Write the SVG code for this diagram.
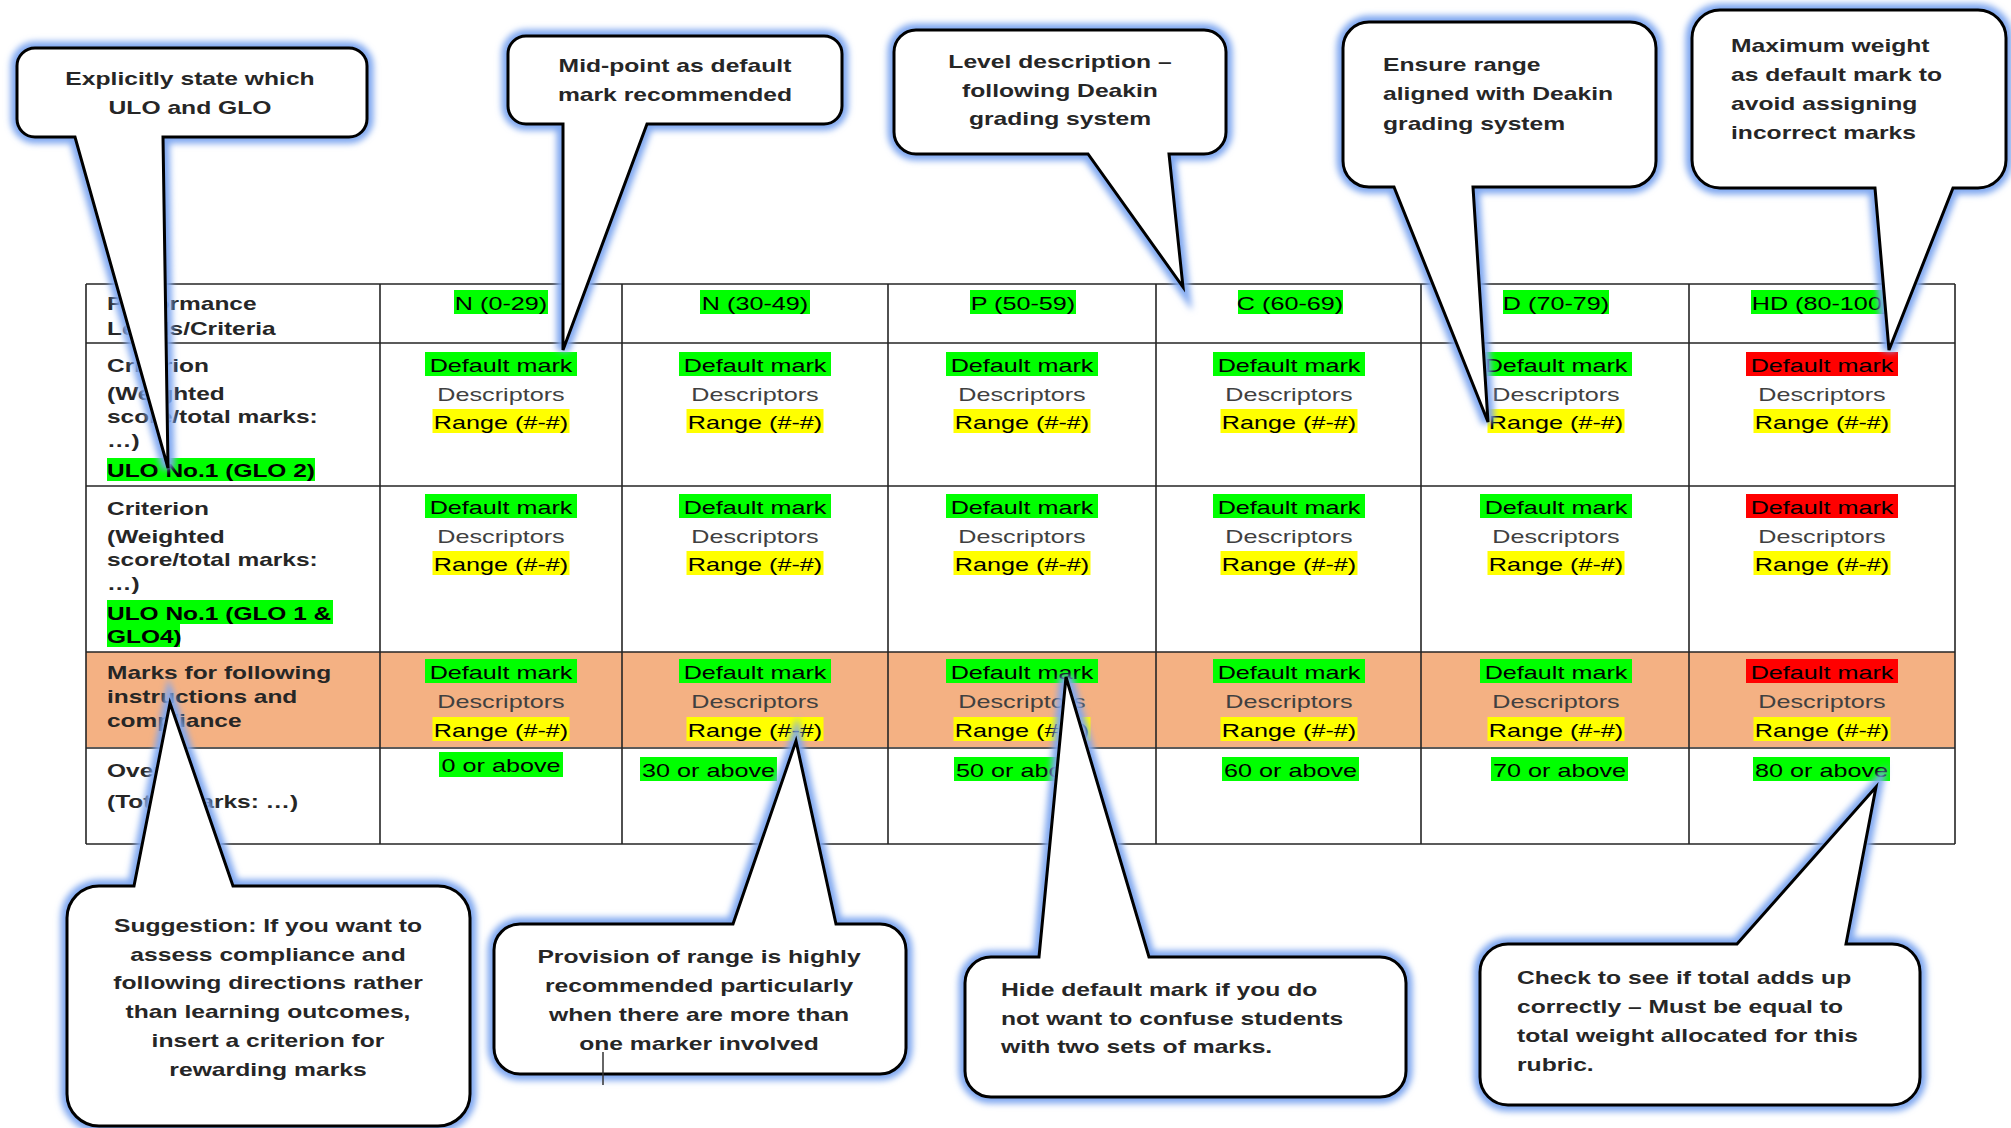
<svg xmlns="http://www.w3.org/2000/svg" width="2011" height="1128" viewBox="0 0 2011 1128">
<defs>
<style>
text{font-family:"Liberation Sans",Arial,sans-serif;font-size:18px}
.b{font-weight:bold;fill:#262626}
.n{fill:#000}
.d{fill:#404040}
.c{text-anchor:middle}
.g{fill:#00FF00}
.y{fill:#FFFF00}
.red{fill:#FF0000}
.grid{stroke:#262626;stroke-width:1.6;fill:none}
.glow{fill:none;stroke:#7FA7F0;stroke-width:13}
.shape{fill:#fff;stroke:#000;stroke-width:3}
</style>
<filter id="blur" x="-20%" y="-20%" width="140%" height="140%"><feGaussianBlur stdDeviation="3.2"/></filter>
<path id="p1" d="M35,48 H349 A18,18 0 0 1 367,66 V119 A18,18 0 0 1 349,137 H163 L168,468 L75,137 H35 A18,18 0 0 1 17,119 V66 A18,18 0 0 1 35,48 Z"/>
<path id="p2" d="M526,36 H824 A18,18 0 0 1 842,54 V106 A18,18 0 0 1 824,124 H647 L563,350 L563,124 H526 A18,18 0 0 1 508,106 V54 A18,18 0 0 1 526,36 Z"/>
<path id="p3" d="M916,30 H1204 A22,22 0 0 1 1226,52 V132 A22,22 0 0 1 1204,154 H1169 L1183,287 L1088,154 H916 A22,22 0 0 1 894,132 V52 A22,22 0 0 1 916,30 Z"/>
<path id="p4" d="M1369,22 H1630 A26,26 0 0 1 1656,48 V161 A26,26 0 0 1 1630,187 H1473 L1488,422 L1394,187 H1369 A26,26 0 0 1 1343,161 V48 A26,26 0 0 1 1369,22 Z"/>
<path id="p5" d="M1720,10 H1978 A28,28 0 0 1 2006,38 V160 A28,28 0 0 1 1978,188 H1953 L1889,350 L1875,188 H1720 A28,28 0 0 1 1692,160 V38 A28,28 0 0 1 1720,10 Z"/>
<path id="p6" d="M99,886 H134 L170,703 L233,886 H438 A32,32 0 0 1 470,918 V1094 A32,32 0 0 1 438,1126 H99 A32,32 0 0 1 67,1094 V918 A32,32 0 0 1 99,886 Z"/>
<path id="p7" d="M520,924 H733 L796,741 L836,924 H880 A26,26 0 0 1 906,950 V1048 A26,26 0 0 1 880,1074 H520 A26,26 0 0 1 494,1048 V950 A26,26 0 0 1 520,924 Z"/>
<path id="p8" d="M991,957 H1039 L1066,677 L1149,957 H1380 A26,26 0 0 1 1406,983 V1071 A26,26 0 0 1 1380,1097 H991 A26,26 0 0 1 965,1071 V983 A26,26 0 0 1 991,957 Z"/>
<path id="p9" d="M1508,944 H1737 L1876,787 L1846,944 H1892 A28,28 0 0 1 1920,972 V1077 A28,28 0 0 1 1892,1105 H1508 A28,28 0 0 1 1480,1077 V972 A28,28 0 0 1 1508,944 Z"/>
</defs>
<rect width="2011" height="1128" fill="#fff"/>

<g id="table">
<rect x="86" y="652" width="1869" height="95" fill="#F4B183"/>
<g class="grid">
<path d="M86,284 H1955 M86,343 H1955 M86,486 H1955 M86,652 H1955 M86,748 H1955 M86,844 H1955"/>
<path d="M86,284 V844 M380,284 V844 M622,284 V844 M888,284 V844 M1156,284 V844 M1421,284 V844 M1689,284 V844 M1955,284 V844"/>
</g>
<!-- header -->
<text class="b" transform="translate(107 310) scale(1.36 1)">Performance</text>
<text class="b" transform="translate(107 335) scale(1.36 1)">Levels/Criteria</text>
<rect class="g" x="454" y="290" width="94" height="24"/><text class="n c" transform="translate(501 310) scale(1.4 1)">N (0-29)</text>
<rect class="g" x="700" y="290" width="110" height="24"/><text class="n c" transform="translate(755 310) scale(1.4 1)">N (30-49)</text>
<rect class="g" x="970" y="290" width="106" height="24"/><text class="n c" transform="translate(1023 310) scale(1.4 1)">P (50-59)</text>
<rect class="g" x="1238" y="290" width="105" height="24"/><text class="n c" transform="translate(1290 310) scale(1.4 1)">C (60-69)</text>
<rect class="g" x="1503" y="290" width="106" height="24"/><text class="n c" transform="translate(1556 310) scale(1.4 1)">D (70-79)</text>
<rect class="g" x="1751" y="290" width="141" height="24"/><text class="n c" transform="translate(1821 310) scale(1.4 1)">HD (80-100)</text>
<!-- row 1 -->
<text class="b" transform="translate(107 372) scale(1.36 1)">Criterion</text>
<text class="b" transform="translate(107 400) scale(1.36 1)">(Weighted</text>
<text class="b" transform="translate(107 423) scale(1.36 1)">score/total marks:</text>
<text class="b" transform="translate(107 447) scale(1.36 1)">…)</text>
<rect class="g" x="107" y="458" width="208" height="23"/>
<text class="b" style="fill:#000" transform="translate(107 477) scale(1.36 1)">ULO No.1 (GLO 2)</text>
<rect class="g" x="425" y="352" width="152" height="24"/><text class="n c" transform="translate(501 372) scale(1.4 1)">Default mark</text>
<rect class="g" x="679" y="352" width="152" height="24"/><text class="n c" transform="translate(755 372) scale(1.4 1)">Default mark</text>
<rect class="g" x="946" y="352" width="152" height="24"/><text class="n c" transform="translate(1022 372) scale(1.4 1)">Default mark</text>
<rect class="g" x="1213" y="352" width="152" height="24"/><text class="n c" transform="translate(1289 372) scale(1.4 1)">Default mark</text>
<rect class="g" x="1480" y="352" width="152" height="24"/><text class="n c" transform="translate(1556 372) scale(1.4 1)">Default mark</text>
<rect class="red" x="1746" y="352" width="152" height="24"/><text class="n c" transform="translate(1822 372) scale(1.4 1)">Default mark</text>
<text class="d c" transform="translate(501 401) scale(1.4 1)">Descriptors</text>
<text class="d c" transform="translate(755 401) scale(1.4 1)">Descriptors</text>
<text class="d c" transform="translate(1022 401) scale(1.4 1)">Descriptors</text>
<text class="d c" transform="translate(1289 401) scale(1.4 1)">Descriptors</text>
<text class="d c" transform="translate(1556 401) scale(1.4 1)">Descriptors</text>
<text class="d c" transform="translate(1822 401) scale(1.4 1)">Descriptors</text>
<rect class="y" x="432.5" y="409" width="137" height="24"/><text class="n c" transform="translate(501 429) scale(1.4 1)">Range (#-#)</text>
<rect class="y" x="686.5" y="409" width="137" height="24"/><text class="n c" transform="translate(755 429) scale(1.4 1)">Range (#-#)</text>
<rect class="y" x="953.5" y="409" width="137" height="24"/><text class="n c" transform="translate(1022 429) scale(1.4 1)">Range (#-#)</text>
<rect class="y" x="1220.5" y="409" width="137" height="24"/><text class="n c" transform="translate(1289 429) scale(1.4 1)">Range (#-#)</text>
<rect class="y" x="1487.5" y="409" width="137" height="24"/><text class="n c" transform="translate(1556 429) scale(1.4 1)">Range (#-#)</text>
<rect class="y" x="1753.5" y="409" width="137" height="24"/><text class="n c" transform="translate(1822 429) scale(1.4 1)">Range (#-#)</text>
<!-- row 2 -->
<text class="b" transform="translate(107 515) scale(1.36 1)">Criterion</text>
<text class="b" transform="translate(107 543) scale(1.36 1)">(Weighted</text>
<text class="b" transform="translate(107 566) scale(1.36 1)">score/total marks:</text>
<text class="b" transform="translate(107 590) scale(1.36 1)">…)</text>
<rect class="g" x="107" y="600" width="226" height="24"/>
<rect class="g" x="107" y="624" width="73" height="23"/>
<text class="b" style="fill:#000" transform="translate(107 620) scale(1.36 1)">ULO No.1 (GLO 1 &amp;</text>
<text class="b" style="fill:#000" transform="translate(107 643) scale(1.36 1)">GLO4)</text>
<rect class="g" x="425" y="494" width="152" height="24"/><text class="n c" transform="translate(501 514) scale(1.4 1)">Default mark</text>
<rect class="g" x="679" y="494" width="152" height="24"/><text class="n c" transform="translate(755 514) scale(1.4 1)">Default mark</text>
<rect class="g" x="946" y="494" width="152" height="24"/><text class="n c" transform="translate(1022 514) scale(1.4 1)">Default mark</text>
<rect class="g" x="1213" y="494" width="152" height="24"/><text class="n c" transform="translate(1289 514) scale(1.4 1)">Default mark</text>
<rect class="g" x="1480" y="494" width="152" height="24"/><text class="n c" transform="translate(1556 514) scale(1.4 1)">Default mark</text>
<rect class="red" x="1746" y="494" width="152" height="24"/><text class="n c" transform="translate(1822 514) scale(1.4 1)">Default mark</text>
<text class="d c" transform="translate(501 543) scale(1.4 1)">Descriptors</text>
<text class="d c" transform="translate(755 543) scale(1.4 1)">Descriptors</text>
<text class="d c" transform="translate(1022 543) scale(1.4 1)">Descriptors</text>
<text class="d c" transform="translate(1289 543) scale(1.4 1)">Descriptors</text>
<text class="d c" transform="translate(1556 543) scale(1.4 1)">Descriptors</text>
<text class="d c" transform="translate(1822 543) scale(1.4 1)">Descriptors</text>
<rect class="y" x="432.5" y="551" width="137" height="24"/><text class="n c" transform="translate(501 571) scale(1.4 1)">Range (#-#)</text>
<rect class="y" x="686.5" y="551" width="137" height="24"/><text class="n c" transform="translate(755 571) scale(1.4 1)">Range (#-#)</text>
<rect class="y" x="953.5" y="551" width="137" height="24"/><text class="n c" transform="translate(1022 571) scale(1.4 1)">Range (#-#)</text>
<rect class="y" x="1220.5" y="551" width="137" height="24"/><text class="n c" transform="translate(1289 571) scale(1.4 1)">Range (#-#)</text>
<rect class="y" x="1487.5" y="551" width="137" height="24"/><text class="n c" transform="translate(1556 571) scale(1.4 1)">Range (#-#)</text>
<rect class="y" x="1753.5" y="551" width="137" height="24"/><text class="n c" transform="translate(1822 571) scale(1.4 1)">Range (#-#)</text>
<!-- row 3 -->
<text class="b" transform="translate(107 679) scale(1.36 1)">Marks for following</text>
<text class="b" transform="translate(107 703) scale(1.36 1)">instructions and</text>
<text class="b" transform="translate(107 727) scale(1.36 1)">compliance</text>
<rect class="g" x="425" y="659" width="152" height="24"/><text class="n c" transform="translate(501 679) scale(1.4 1)">Default mark</text>
<rect class="g" x="679" y="659" width="152" height="24"/><text class="n c" transform="translate(755 679) scale(1.4 1)">Default mark</text>
<rect class="g" x="946" y="659" width="152" height="24"/><text class="n c" transform="translate(1022 679) scale(1.4 1)">Default mark</text>
<rect class="g" x="1213" y="659" width="152" height="24"/><text class="n c" transform="translate(1289 679) scale(1.4 1)">Default mark</text>
<rect class="g" x="1480" y="659" width="152" height="24"/><text class="n c" transform="translate(1556 679) scale(1.4 1)">Default mark</text>
<rect class="red" x="1746" y="659" width="152" height="24"/><text class="n c" transform="translate(1822 679) scale(1.4 1)">Default mark</text>
<text class="d c" transform="translate(501 708) scale(1.4 1)">Descriptors</text>
<text class="d c" transform="translate(755 708) scale(1.4 1)">Descriptors</text>
<text class="d c" transform="translate(1022 708) scale(1.4 1)">Descriptors</text>
<text class="d c" transform="translate(1289 708) scale(1.4 1)">Descriptors</text>
<text class="d c" transform="translate(1556 708) scale(1.4 1)">Descriptors</text>
<text class="d c" transform="translate(1822 708) scale(1.4 1)">Descriptors</text>
<rect class="y" x="432.5" y="717" width="137" height="24"/><text class="n c" transform="translate(501 737) scale(1.4 1)">Range (#-#)</text>
<rect class="y" x="686.5" y="717" width="137" height="24"/><text class="n c" transform="translate(755 737) scale(1.4 1)">Range (#-#)</text>
<rect class="y" x="953.5" y="717" width="137" height="24"/><text class="n c" transform="translate(1022 737) scale(1.4 1)">Range (#-#)</text>
<rect class="y" x="1220.5" y="717" width="137" height="24"/><text class="n c" transform="translate(1289 737) scale(1.4 1)">Range (#-#)</text>
<rect class="y" x="1487.5" y="717" width="137" height="24"/><text class="n c" transform="translate(1556 737) scale(1.4 1)">Range (#-#)</text>
<rect class="y" x="1753.5" y="717" width="137" height="24"/><text class="n c" transform="translate(1822 737) scale(1.4 1)">Range (#-#)</text>
<!-- row 4 -->
<text class="b" transform="translate(107 777) scale(1.36 1)">Overall</text>
<text class="b" transform="translate(107 808) scale(1.36 1)">(Total marks: …)</text>
<rect class="g" x="439" y="752" width="124" height="25"/><text class="n c" transform="translate(501 772) scale(1.4 1)">0 or above</text>
<rect class="g" x="640" y="757" width="137" height="24"/><text class="n c" transform="translate(708.5 777) scale(1.4 1)">30 or above</text>
<rect class="g" x="954" y="757" width="137" height="24"/><text class="n c" transform="translate(1022.5 777) scale(1.4 1)">50 or above</text>
<rect class="g" x="1222" y="757" width="137" height="24"/><text class="n c" transform="translate(1290.5 777) scale(1.4 1)">60 or above</text>
<rect class="g" x="1491" y="757" width="137" height="24"/><text class="n c" transform="translate(1559.5 777) scale(1.4 1)">70 or above</text>
<rect class="g" x="1753" y="757" width="137" height="24"/><text class="n c" transform="translate(1821.5 777) scale(1.4 1)">80 or above</text>
</g>

<g id="callout-ulo-glo">
<use href="#p1" class="glow" filter="url(#blur)"/><use href="#p1" class="shape"/>
<text class="b c" transform="translate(190 85) scale(1.37 1)"><tspan x="0" y="0">Explicitly state which</tspan><tspan x="0" y="29">ULO and GLO</tspan></text>
</g>
<g id="callout-midpoint">
<use href="#p2" class="glow" filter="url(#blur)"/><use href="#p2" class="shape"/>
<text class="b c" transform="translate(675 72) scale(1.37 1)"><tspan x="0" y="0">Mid-point as default</tspan><tspan x="0" y="29">mark recommended</tspan></text>
</g>
<g id="callout-level">
<use href="#p3" class="glow" filter="url(#blur)"/><use href="#p3" class="shape"/>
<text class="b c" transform="translate(1060 68) scale(1.37 1)"><tspan x="0" y="0">Level description –</tspan><tspan x="0" y="29">following Deakin</tspan><tspan x="0" y="57">grading system</tspan></text>
</g>
<g id="callout-range">
<use href="#p4" class="glow" filter="url(#blur)"/><use href="#p4" class="shape"/>
<text class="b" transform="translate(1383 71) scale(1.37 1)"><tspan x="0" y="0">Ensure range</tspan><tspan x="0" y="29">aligned with Deakin</tspan><tspan x="0" y="59">grading system</tspan></text>
</g>
<g id="callout-maxweight">
<use href="#p5" class="glow" filter="url(#blur)"/><use href="#p5" class="shape"/>
<text class="b" transform="translate(1731 52) scale(1.37 1)"><tspan x="0" y="0">Maximum weight</tspan><tspan x="0" y="29">as default mark to</tspan><tspan x="0" y="58">avoid assigning</tspan><tspan x="0" y="87">incorrect marks</tspan></text>
</g>
<g id="callout-suggestion">
<use href="#p6" class="glow" filter="url(#blur)"/><use href="#p6" class="shape"/>
<text class="b c" transform="translate(268 932) scale(1.37 1)"><tspan x="0" y="0">Suggestion: If you want to</tspan><tspan x="0" y="29">assess compliance and</tspan><tspan x="0" y="57">following directions rather</tspan><tspan x="0" y="86">than learning outcomes,</tspan><tspan x="0" y="115">insert a criterion for</tspan><tspan x="0" y="144">rewarding marks</tspan></text>
</g>
<g id="callout-provision">
<use href="#p7" class="glow" filter="url(#blur)"/><use href="#p7" class="shape"/>
<text class="b c" transform="translate(699 963) scale(1.37 1)"><tspan x="0" y="0">Provision of range is highly</tspan><tspan x="0" y="29">recommended particularly</tspan><tspan x="0" y="58">when there are more than</tspan><tspan x="0" y="87">one marker involved</tspan></text>
<line x1="603" y1="1052" x2="603" y2="1085" stroke="#333" stroke-width="1.5"/>
</g>
<g id="callout-hide">
<use href="#p8" class="glow" filter="url(#blur)"/><use href="#p8" class="shape"/>
<text class="b" transform="translate(1001 996) scale(1.37 1)"><tspan x="0" y="0">Hide default mark if you do</tspan><tspan x="0" y="29">not want to confuse students</tspan><tspan x="0" y="57">with two sets of marks.</tspan></text>
</g>
<g id="callout-check">
<use href="#p9" class="glow" filter="url(#blur)"/><use href="#p9" class="shape"/>
<text class="b" transform="translate(1517 984) scale(1.37 1)"><tspan x="0" y="0">Check to see if total adds up</tspan><tspan x="0" y="29">correctly – Must be equal to</tspan><tspan x="0" y="58">total weight allocated for this</tspan><tspan x="0" y="87">rubric.</tspan></text>
</g>
</svg>
